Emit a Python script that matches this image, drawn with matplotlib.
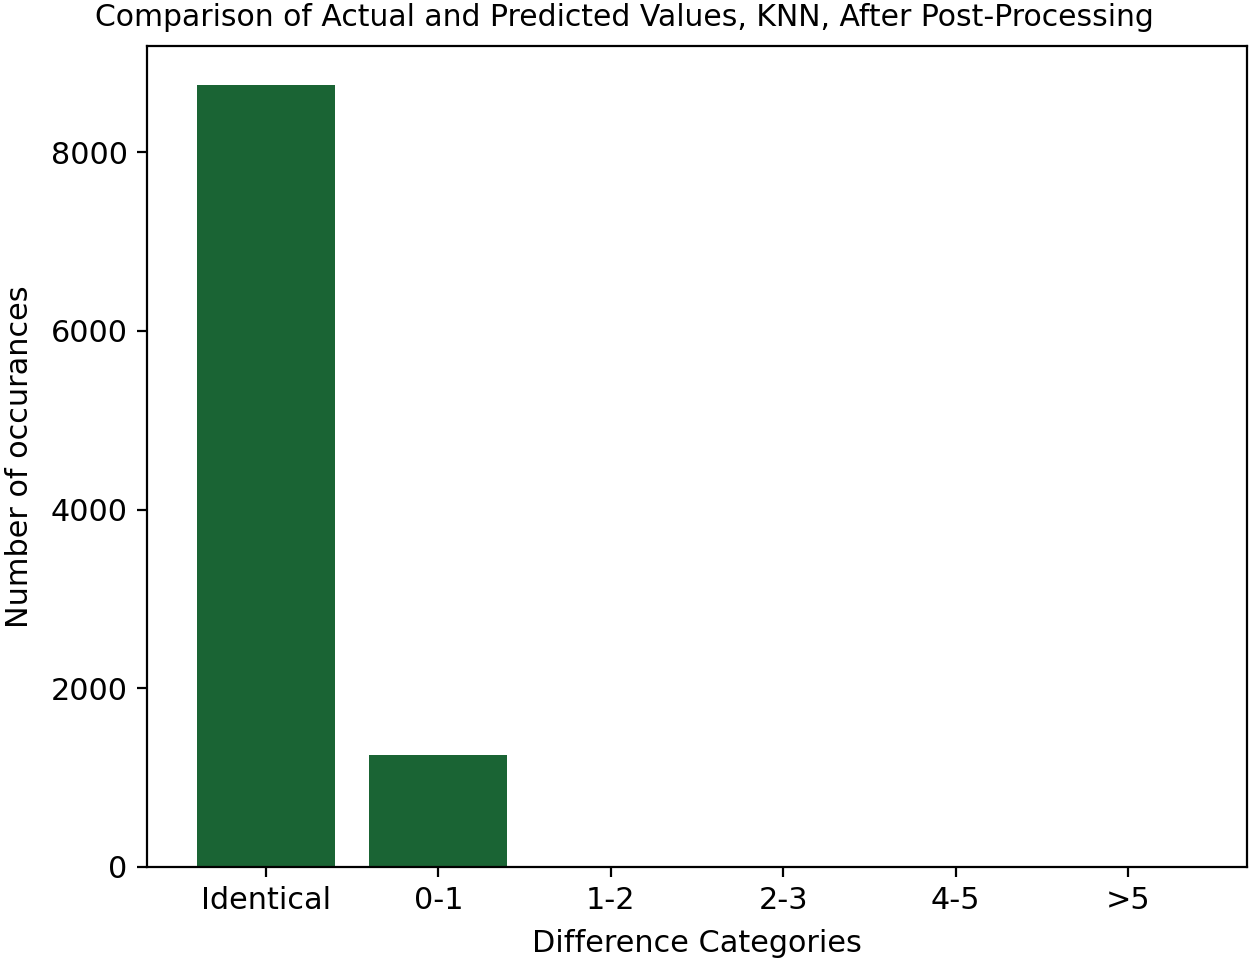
import matplotlib
matplotlib.use('Agg')
import matplotlib.pyplot as plt

categories = ['Identical', '0-1', '1-2', '2-3', '4-5', '>5']
counts = [8750, 1250, 0, 0, 0, 0]

plt.rcParams['font.size'] = 10.9

fig = plt.figure(figsize=(6.26, 4.815), dpi=200)
ax = fig.add_axes([0.1174, 0.0997, 0.8786, 0.8523])

ax.bar(categories, counts, color='#1a6434')

ax.set_xlabel('Difference Categories', labelpad=5)
ax.set_ylabel('Number of occurances', labelpad=6)
fig.text(0.499, 0.982, 'Comparison of Actual and Predicted Values, KNN, After Post-Processing',
         ha='center', va='center', fontsize=10.75)

fig.savefig('out.png')
